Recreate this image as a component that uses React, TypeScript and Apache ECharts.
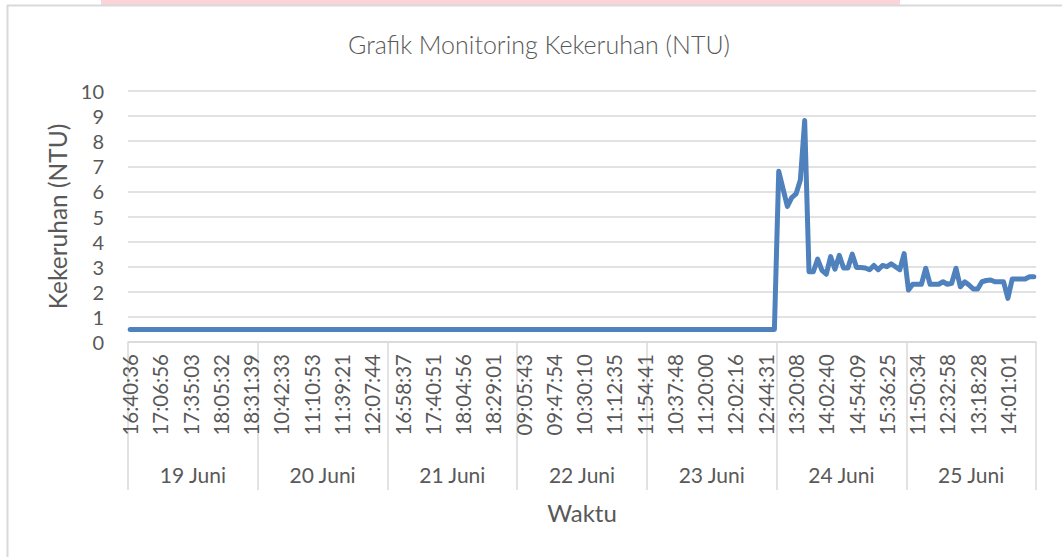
import React, { useEffect, useRef } from 'react';
import * as echarts from 'echarts';

// ---- Data ----
const chartTitle = 'Grafik Monitoring Kekeruhan (NTU)';
const yAxisTitle = 'Kekeruhan (NTU)';
const xAxisTitle = 'Waktu';

const dayLabels = ['19 Juni', '20 Juni', '21 Juni', '22 Juni', '23 Juni', '24 Juni', '25 Juni'];

// time tick labels, shown every 7th reading
const timeTickLabels = [
  '16:40:36', '17:06:56', '17:35:03', '18:05:32', '18:31:39',
  '10:42:33', '11:10:53', '11:39:21', '12:07:44',
  '16:58:37', '17:40:51', '18:04:56', '18:29:01',
  '09:05:43', '09:47:54', '10:30:10', '11:12:35', '11:54:41',
  '10:37:48', '11:20:00', '12:02:16', '12:44:31',
  '13:20:08', '14:02:40', '14:54:09', '15:36:25',
  '11:50:34', '12:32:58', '13:18:28', '14:01:01',
];
const labelEvery = 7;

// readings per day (30 each)
const juni19 = [0.5, 0.5, 0.5, 0.5, 0.5, 0.5, 0.5, 0.5, 0.5, 0.5, 0.5, 0.5, 0.5, 0.5, 0.5, 0.5, 0.5, 0.5, 0.5, 0.5, 0.5, 0.5, 0.5, 0.5, 0.5, 0.5, 0.5, 0.5, 0.5, 0.5];
const juni20 = [0.5, 0.5, 0.5, 0.5, 0.5, 0.5, 0.5, 0.5, 0.5, 0.5, 0.5, 0.5, 0.5, 0.5, 0.5, 0.5, 0.5, 0.5, 0.5, 0.5, 0.5, 0.5, 0.5, 0.5, 0.5, 0.5, 0.5, 0.5, 0.5, 0.5];
const juni21 = [0.5, 0.5, 0.5, 0.5, 0.5, 0.5, 0.5, 0.5, 0.5, 0.5, 0.5, 0.5, 0.5, 0.5, 0.5, 0.5, 0.5, 0.5, 0.5, 0.5, 0.5, 0.5, 0.5, 0.5, 0.5, 0.5, 0.5, 0.5, 0.5, 0.5];
const juni22 = [0.5, 0.5, 0.5, 0.5, 0.5, 0.5, 0.5, 0.5, 0.5, 0.5, 0.5, 0.5, 0.5, 0.5, 0.5, 0.5, 0.5, 0.5, 0.5, 0.5, 0.5, 0.5, 0.5, 0.5, 0.5, 0.5, 0.5, 0.5, 0.5, 0.5];
const juni23 = [0.5, 0.5, 0.5, 0.5, 0.5, 0.5, 0.5, 0.5, 0.5, 0.5, 0.5, 0.5, 0.5, 0.5, 0.5, 0.5, 0.5, 0.5, 0.5, 0.5, 0.5, 0.5, 0.5, 0.5, 0.5, 0.5, 0.5, 0.5, 0.5, 0.5];
const juni24 = [6.8, 6.1, 5.4, 5.75, 5.9, 6.45, 8.82, 2.8, 2.8, 3.3, 2.85, 2.7, 3.4, 2.9, 3.45, 2.95, 2.95, 3.5, 2.97, 2.97, 2.95, 2.88, 3.05, 2.88, 3.05, 3.0, 3.12, 3.0, 2.88, 3.52];
const juni25 = [2.07, 2.3, 2.3, 2.3, 2.94, 2.3, 2.3, 2.3, 2.4, 2.3, 2.34, 2.94, 2.2, 2.4, 2.27, 2.11, 2.11, 2.4, 2.45, 2.47, 2.4, 2.4, 2.4, 1.74, 2.51, 2.51, 2.51, 2.51, 2.6, 2.6];

const dailyReadings = [juni19, juni20, juni21, juni22, juni23, juni24, juni25];

const FONT = 'Lato, "Open Sans", sans-serif';
const TEXT = '#595959';
const GRID = '#d9d9d9';

export default function App() {
  const ref = useRef<HTMLDivElement>(null);

  useEffect(() => {
    if (!ref.current) return;
    const chart = echarts.init(ref.current, null, { renderer: 'svg' });

    const values: number[] = [];
    const categories: string[] = [];
    dailyReadings.forEach((day, d) => {
      day.forEach((v, j) => {
        const i = values.length;
        values.push(v);
        categories.push(i % labelEvery === 0 ? timeTickLabels[i / labelEvery] : `${dayLabels[d]} #${j + 1}`);
      });
    });

    chart.setOption({
      animation: false,
      backgroundColor: '#ffffff',
      grid: { left: 128, right: 26, top: 91, bottom: 215, containLabel: false },
      graphic: [
        { type: 'rect', shape: { x: 101, y: 0, width: 799, height: 5 }, style: { fill: '#fcd3d9' }, silent: true },
        { type: 'line', shape: { x1: 7, y1: 5.5, x2: 1062, y2: 5.5 }, style: { stroke: GRID, lineWidth: 2 }, silent: true },
        { type: 'line', shape: { x1: 7.5, y1: 5, x2: 7.5, y2: 557 }, style: { stroke: GRID, lineWidth: 2 }, silent: true },
        {
          type: 'text', x: 539, y: 44,
          style: { text: chartTitle, fill: TEXT, font: `300 25px ${FONT}`, textAlign: 'center', textVerticalAlign: 'middle' },
          silent: true,
        },
      ],
      xAxis: [
        {
          type: 'category',
          data: categories,
          boundaryGap: true,
          position: 'bottom',
          axisLine: { show: false },
          axisTick: { show: false },
          splitLine: { show: false },
          axisLabel: {
            interval: labelEvery - 1,
            rotate: 90,
            margin: 12,
            fontSize: 20.5,
            fontFamily: FONT,
            color: TEXT,
          },
        },
        {
          type: 'category',
          data: dayLabels,
          boundaryGap: true,
          position: 'bottom',
          axisLine: { show: true, lineStyle: { color: GRID, width: 1.5 } },
          axisTick: { show: true, length: 148, lineStyle: { color: GRID, width: 1.5 } },
          axisLabel: { margin: 122, fontSize: 21, fontFamily: FONT, color: TEXT },
          name: xAxisTitle,
          nameLocation: 'middle',
          nameGap: 158,
          nameTextStyle: { fontSize: 24, fontFamily: FONT, color: TEXT },
        },
      ],
      yAxis: {
        type: 'value',
        min: 0,
        max: 10,
        interval: 1,
        axisLine: { show: false },
        axisTick: { show: false },
        splitLine: { lineStyle: { color: GRID, width: 1.5 } },
        axisLabel: { margin: 24, fontSize: 20, fontFamily: FONT, color: TEXT },
        name: yAxisTitle,
        nameLocation: 'middle',
        nameRotate: 90,
        nameGap: 53,
        nameTextStyle: { fontSize: 24.5, fontFamily: FONT, color: TEXT },
      },
      series: [
        {
          type: 'line',
          xAxisIndex: 0,
          data: values,
          showSymbol: false,
          symbol: 'none',
          lineStyle: { color: '#4f81bd', width: 5, cap: 'round', join: 'round' },
          itemStyle: { color: '#4f81bd' },
        },
      ],
    });

    return () => chart.dispose();
  }, []);

  return <div ref={ref} style={{ position: 'fixed', left: 0, top: 0, width: 1062, height: 557 }} />;
}
